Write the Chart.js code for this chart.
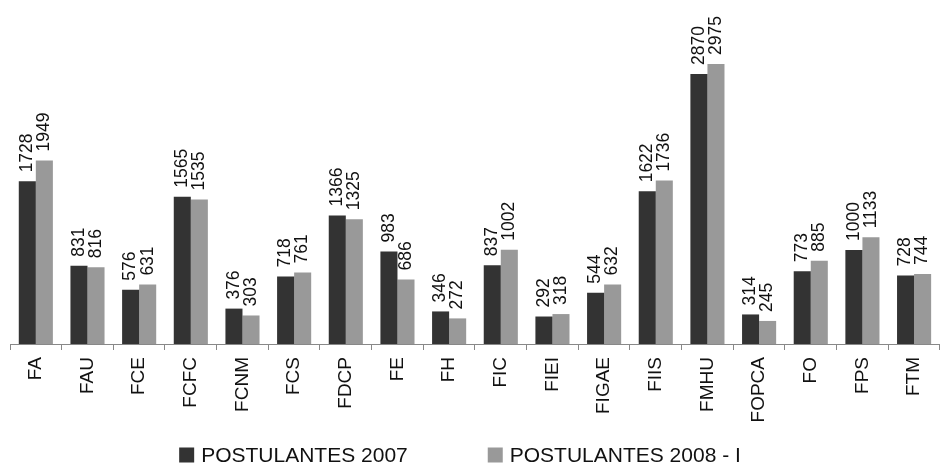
<!DOCTYPE html>
<html>
<head>
<meta charset="utf-8">
<script src="https://cdn.jsdelivr.net/npm/chart.js@4.4.1/dist/chart.umd.min.js"></script>
<style>
    html, body { margin: 0; padding: 0; background: #ffffff; }
    #wrap { width: 944px; height: 463px; position: relative; }
</style>
</head>
<body>
<div id="wrap"><canvas id="postChart"></canvas></div>
<script>
// Data
const categories = ['FA', 'FAU', 'FCE', 'FCFC', 'FCNM', 'FCS', 'FDCP', 'FE', 'FH', 'FIC',
    'FIEI', 'FIGAE', 'FIIS', 'FMHU', 'FOPCA', 'FO', 'FPS', 'FTM'];
const postulantes2007 = [1728, 831, 576, 1565, 376, 718, 1366, 983, 346, 837,
    292, 544, 1622, 2870, 314, 773, 1000, 728];
const postulantes2008 = [1949, 816, 631, 1535, 303, 761, 1325, 686, 272, 1002,
    318, 632, 1736, 2975, 245, 885, 1133, 744];
const seriesNames = ['POSTULANTES 2007', 'POSTULANTES 2008 - I'];

const FONT = "'Liberation Sans', Arial, sans-serif";

// Value labels, rotated, above each bar
const barLabels = {
    id: 'barLabels',
    afterDatasetsDraw(chart) {
        const ctx = chart.ctx;
        ctx.save();
        ctx.font = '17.5px ' + FONT;
        ctx.fillStyle = '#111111';
        ctx.textAlign = 'left';
        ctx.textBaseline = 'middle';
        chart.data.datasets.forEach((ds, di) => {
            const meta = chart.getDatasetMeta(di);
            meta.data.forEach((bar, i) => {
                ctx.save();
                ctx.translate(bar.x, bar.y - 9);
                ctx.rotate(-Math.PI / 2);
                ctx.fillText(String(ds.data[i]), 0, 0);
                ctx.restore();
            });
        });
        ctx.restore();
    }
};

// Legend drawn at the bottom with wide spacing between items
const bottomLegend = {
    id: 'bottomLegend',
    afterDraw(chart) {
        const ctx = chart.ctx;
        const box = 15;
        const gap = 80;
        const y = 455;
        ctx.save();
        ctx.font = '21px ' + FONT;
        ctx.textBaseline = 'middle';
        ctx.textAlign = 'left';
        const items = chart.data.datasets.map(ds => ({
            text: ds.label,
            color: ds.backgroundColor,
            w: box + 7 + ctx.measureText(ds.label).width
        }));
        const total = items.reduce((s, it) => s + it.w, 0) + gap * (items.length - 1);
        let x = chart.width / 2 - 12 - total / 2;
        items.forEach(it => {
            ctx.fillStyle = it.color;
            ctx.fillRect(x, y - box / 2, box, box);
            ctx.fillStyle = '#111111';
            ctx.fillText(it.text, x + box + 7, y + 1);
            x += it.w + gap;
        });
        ctx.restore();
    }
};

window.renderPostChart = function (canvasId) {
    const el = document.getElementById(canvasId);
    if (!el || typeof Chart === 'undefined') {
        console.error('Chart.js or canvas missing');
        return;
    }

    new Chart(el.getContext('2d'), {
        type: 'bar',
        data: {
            labels: categories,
            datasets: [{
                label: seriesNames[0],
                data: postulantes2007,
                backgroundColor: '#333333',
                borderWidth: 0
            }, {
                label: seriesNames[1],
                data: postulantes2008,
                backgroundColor: '#999999',
                borderWidth: 0
            }]
        },
        options: {
            responsive: true,
            maintainAspectRatio: false,
            animation: false,
            layout: { padding: { left: 10, right: 4, top: 0, bottom: 0 } },
            categoryPercentage: 0.66,
            barPercentage: 1.0,
            plugins: {
                legend: { display: false },
                tooltip: { enabled: false }
            },
            scales: {
                x: {
                    offset: true,
                    grid: {
                        offset: true,
                        drawOnChartArea: false,
                        drawTicks: true,
                        tickLength: 6,
                        color: '#888888'
                    },
                    border: { color: '#888888', width: 1 },
                    ticks: {
                        minRotation: 90,
                        maxRotation: 90,
                        padding: 7,
                        color: '#111111',
                        font: { family: FONT, size: 19 }
                    },
                    afterFit(scale) {
                        scale.height = 119;
                    }
                },
                y: {
                    display: false,
                    min: 0,
                    max: 3655
                }
            }
        },
        plugins: [barLabels, bottomLegend]
    });
};

(function () {
    window.renderPostChart('postChart');
})();
</script>
</body>
</html>
